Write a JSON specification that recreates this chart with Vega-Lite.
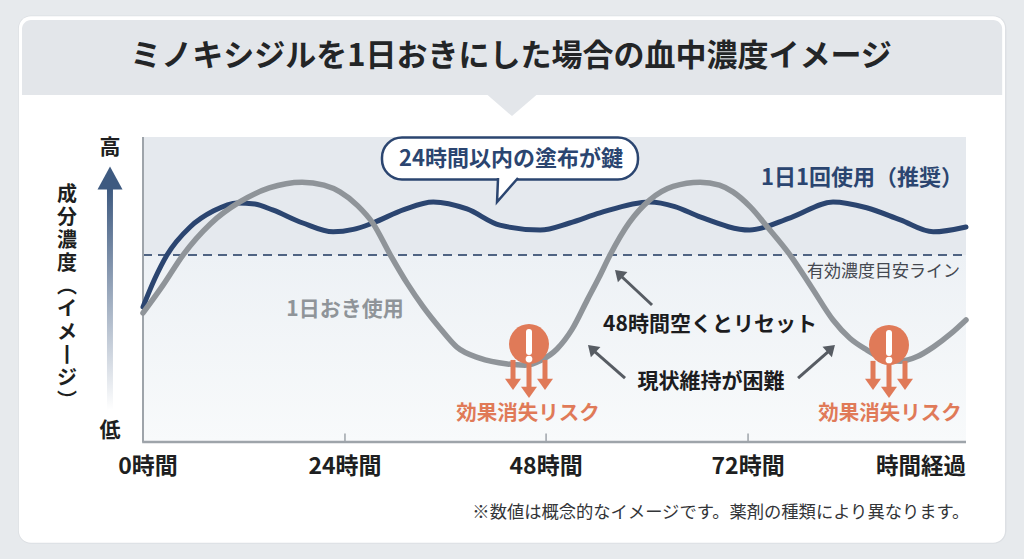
{
  "$schema": "https://vega.github.io/schema/vega-lite/v6.json",
  "description": "ミノキシジルを1日おきにした場合の血中濃度イメージ",
  "width": 823,
  "height": 305,
  "autosize": "none",
  "padding": {"left": 143, "top": 137, "right": 58, "bottom": 117},
  "background": "#e7eaed",
  "datasets": {
    "curves": [
      {"series": "daily", "h": 0, "v": 44.3},
      {"series": "daily", "h": 1.4, "v": 53.5},
      {"series": "daily", "h": 2.85, "v": 61.3},
      {"series": "daily", "h": 5.6, "v": 70.5},
      {"series": "daily", "h": 8.4, "v": 75.8},
      {"series": "daily", "h": 11.2, "v": 78.4},
      {"series": "daily", "h": 13.3, "v": 78.0},
      {"series": "daily", "h": 15.4, "v": 76.1},
      {"series": "daily", "h": 19, "v": 71.8},
      {"series": "daily", "h": 22.6, "v": 68.9},
      {"series": "daily", "h": 25, "v": 69.7},
      {"series": "daily", "h": 27.3, "v": 71.8},
      {"series": "daily", "h": 31, "v": 76.2},
      {"series": "daily", "h": 34.5, "v": 78.7},
      {"series": "daily", "h": 38.5, "v": 76.4},
      {"series": "daily", "h": 42.4, "v": 71.1},
      {"series": "daily", "h": 47.2, "v": 69.5},
      {"series": "daily", "h": 50.7, "v": 71.8},
      {"series": "daily", "h": 54.3, "v": 75.1},
      {"series": "daily", "h": 60.2, "v": 78.7},
      {"series": "daily", "h": 63.2, "v": 77.2},
      {"series": "daily", "h": 66.2, "v": 73.8},
      {"series": "daily", "h": 72.1, "v": 69.5},
      {"series": "daily", "h": 77, "v": 73.6},
      {"series": "daily", "h": 82.0, "v": 78.7},
      {"series": "daily", "h": 86, "v": 76.8},
      {"series": "daily", "h": 90.0, "v": 72.8},
      {"series": "daily", "h": 93.9, "v": 68.9},
      {"series": "daily", "h": 97.8, "v": 70.5},
      {"series": "alt", "h": 0, "v": 42.3},
      {"series": "alt", "h": 2.4, "v": 51.5},
      {"series": "alt", "h": 4.75, "v": 61.3},
      {"series": "alt", "h": 8, "v": 71.5},
      {"series": "alt", "h": 11.5, "v": 78.7},
      {"series": "alt", "h": 15, "v": 83.3},
      {"series": "alt", "h": 18.9, "v": 85.2},
      {"series": "alt", "h": 21.5, "v": 84.2},
      {"series": "alt", "h": 23.4, "v": 82.0},
      {"series": "alt", "h": 25.5, "v": 77.5},
      {"series": "alt", "h": 27.3, "v": 71.8},
      {"series": "alt", "h": 29.4, "v": 61.3},
      {"series": "alt", "h": 31.4, "v": 52},
      {"series": "alt", "h": 33.3, "v": 44.3},
      {"series": "alt", "h": 35.3, "v": 37.3},
      {"series": "alt", "h": 37.3, "v": 31.1},
      {"series": "alt", "h": 40, "v": 27.5},
      {"series": "alt", "h": 43.3, "v": 25.6},
      {"series": "alt", "h": 45.4, "v": 25.2},
      {"series": "alt", "h": 47.3, "v": 26.8},
      {"series": "alt", "h": 49.2, "v": 30.5},
      {"series": "alt", "h": 51, "v": 37},
      {"series": "alt", "h": 52.8, "v": 46.6},
      {"series": "alt", "h": 54.2, "v": 54},
      {"series": "alt", "h": 55.5, "v": 61.3},
      {"series": "alt", "h": 57.8, "v": 72},
      {"series": "alt", "h": 60.2, "v": 79.3},
      {"series": "alt", "h": 63, "v": 83.8},
      {"series": "alt", "h": 66.2, "v": 85.2},
      {"series": "alt", "h": 68.5, "v": 84.2},
      {"series": "alt", "h": 70.1, "v": 82.0},
      {"series": "alt", "h": 72.2, "v": 77},
      {"series": "alt", "h": 74.2, "v": 70.5},
      {"series": "alt", "h": 76.9, "v": 61.3},
      {"series": "alt", "h": 79.5, "v": 50.5},
      {"series": "alt", "h": 82.0, "v": 40.0},
      {"series": "alt", "h": 84, "v": 34},
      {"series": "alt", "h": 86.0, "v": 30.2},
      {"series": "alt", "h": 88, "v": 27.2},
      {"series": "alt", "h": 90.0, "v": 26.5},
      {"series": "alt", "h": 92, "v": 28},
      {"series": "alt", "h": 93.9, "v": 31.1},
      {"series": "alt", "h": 96, "v": 35.5},
      {"series": "alt", "h": 97.8, "v": 40.0}
    ],
    "icons": [
      {"h": 45.87, "v": 32.1, "label": "効果消失リスク", "lv": 9.18, "lh": 45.75},
      {"h": 88.65, "v": 31.8, "label": "効果消失リスク", "lv": 9.18, "lh": 88.77}
    ],
    "drops": [
      {"h": 43.97, "v": 26.9, "v2": 20.0, "tip": 17.05},
      {"h": 45.87, "v": 26.9, "v2": 17.4, "tip": 14.43},
      {"h": 47.77, "v": 26.9, "v2": 20.0, "tip": 17.05},
      {"h": 86.75, "v": 26.6, "v2": 20.0, "tip": 17.05},
      {"h": 88.65, "v": 26.6, "v2": 17.4, "tip": 14.43},
      {"h": 90.55, "v": 26.6, "v2": 20.0, "tip": 17.05}
    ],
    "pointers": [
      {"dir": "left", "h": 60.49, "v": 44.92, "h2": 56.68, "v2": 54.75, "th": 56.09, "tv": 56.39},
      {"dir": "left", "h": 57.28, "v": 20.98, "h2": 53.48, "v2": 30.16, "th": 52.88, "tv": 31.8},
      {"dir": "right", "h": 77.84, "v": 20.98, "h2": 81.64, "v2": 30.16, "th": 82.23, "tv": 31.8}
    ]
  },
  "encoding": {
    "x": {"field": "h", "type": "quantitative", "scale": {"domain": [0, 97.8], "nice": false, "zero": false}, "axis": null},
    "y": {"field": "v", "type": "quantitative", "scale": {"domain": [0, 100], "nice": false, "zero": false}, "axis": null}
  },
  "layer": [
    {
      "data": {"values": [{"h": -14.85, "h2": 102.6, "v": 139.8, "v2": -33.4}]},
      "mark": {"type": "rect", "fill": "#dcdfe3", "cornerRadius": 13},
      "encoding": {"x2": {"field": "h2"}, "y2": {"field": "v2"}}
    },
    {
      "data": {"values": [{"h": -14.75, "h2": 102.44, "v": 139.6, "v2": -33.0}]},
      "mark": {"type": "rect", "fill": "#ffffff", "cornerRadius": 12},
      "encoding": {"x2": {"field": "h2"}, "y2": {"field": "v2"}}
    },
    {
      "data": {"values": [{"h": -14.38, "h2": 102.1, "v": 138.4, "v2": 113.77}]},
      "mark": {"type": "rect", "fill": "#e3e6ea", "cornerRadiusTopLeft": 9, "cornerRadiusTopRight": 9},
      "encoding": {"x2": {"field": "h2"}, "y2": {"field": "v2"}}
    },
    {
      "data": {"values": [{"h": 43.85, "v": 113.9}]},
      "mark": {"type": "point", "shape": "M -1 0 L 1 0 L 0 0.86 Z", "size": 2500, "filled": true, "fill": "#e3e6ea", "opacity": 1, "strokeWidth": 0}
    },
    {
      "data": {"values": [{"text": "ミノキシジルを1日おきにした場合の血中濃度イメージ", "h": 43.73, "v": 126.2}]},
      "mark": {"type": "text", "fontSize": 31, "fontWeight": "bold", "color": "#232527", "baseline": "middle", "align": "center"},
      "encoding": {"text": {"field": "text"}}
    },
    {
      "data": {"values": [{"h": 0, "h2": 97.8, "v": 61.3, "v2": 100}]},
      "mark": {"type": "rect", "fill": "#e5e9ee"},
      "encoding": {"x2": {"field": "h2"}, "y2": {"field": "v2"}}
    },
    {
      "data": {"values": [{"h": 0, "h2": 97.8, "v": 0, "v2": 61.3}]},
      "mark": {
        "type": "rect",
        "fill": {"gradient": "linear", "x1": 0, "y1": 0, "x2": 0, "y2": 1, "stops": [{"offset": 0, "color": "#edf1f5"}, {"offset": 1, "color": "#f8fafb"}]}
      },
      "encoding": {"x2": {"field": "h2"}, "y2": {"field": "v2"}}
    },
    {
      "data": {"values": [{"h": 0, "h2": 97.8, "v": 61.3}]},
      "mark": {"type": "rule", "color": "#4f6382", "strokeWidth": 2, "strokeDash": [9, 6]},
      "encoding": {"x2": {"field": "h2"}}
    },
    {
      "data": {"values": [{"h": 0, "v": 0, "v2": 100}]},
      "mark": {"type": "rule", "color": "#9ea4aa", "strokeWidth": 2},
      "encoding": {"y2": {"field": "v2"}}
    },
    {
      "data": {"values": [{"h": 24, "v": 0, "v2": 2.8}, {"h": 47.9, "v": 0, "v2": 2.8}, {"h": 71.9, "v": 0, "v2": 2.8}]},
      "mark": {"type": "rule", "color": "#9ea4aa", "strokeWidth": 1.5},
      "encoding": {"y2": {"field": "v2"}}
    },
    {
      "data": {"values": [{"h": -0.1, "h2": 97.8, "v": 0}]},
      "mark": {"type": "rule", "color": "#9ea4aa", "strokeWidth": 2.5},
      "encoding": {"x2": {"field": "h2"}}
    },
    {
      "data": {"name": "curves"},
      "transform": [{"filter": "datum.series === 'daily'"}],
      "mark": {"type": "line", "color": "#2b4570", "strokeWidth": 5, "interpolate": "monotone", "strokeCap": "round"},
      "encoding": {"order": {"field": "h", "type": "quantitative"}}
    },
    {
      "data": {"name": "curves"},
      "transform": [{"filter": "datum.series === 'alt'"}],
      "mark": {"type": "line", "color": "#8f9499", "strokeWidth": 5.5, "interpolate": "monotone", "strokeCap": "round"},
      "encoding": {"order": {"field": "h", "type": "quantitative"}}
    },
    {
      "data": {"name": "drops"},
      "mark": {"type": "rule", "color": "#e07a58", "strokeWidth": 5},
      "encoding": {"y2": {"field": "v2"}}
    },
    {
      "data": {"name": "drops"},
      "mark": {"type": "point", "shape": "M -1 -1.4 L 1 -1.4 L 0 0 Z", "size": 256, "filled": true, "color": "#e07a58", "opacity": 1},
      "encoding": {"y": {"field": "tip", "type": "quantitative"}}
    },
    {
      "data": {"name": "icons"},
      "mark": {"type": "circle", "size": 1600, "color": "#e07a58", "opacity": 1}
    },
    {
      "data": {"name": "icons"},
      "transform": [{"fold": ["v"], "as": ["k", "c"]}],
      "mark": {"type": "rule", "color": "#ffffff", "strokeWidth": 6, "strokeCap": "round", "yOffset": -12, "y2Offset": 8},
      "encoding": {"y": {"field": "c", "type": "quantitative"}, "y2": {"field": "c"}}
    },
    {
      "data": {"name": "icons"},
      "mark": {"type": "circle", "size": 45, "color": "#ffffff", "opacity": 1, "yOffset": 15}
    },
    {
      "data": {"name": "icons"},
      "mark": {"type": "text", "fontSize": 20.5, "fontWeight": "bold", "color": "#e07a58", "baseline": "middle", "align": "center"},
      "encoding": {"x": {"field": "lh", "type": "quantitative"}, "y": {"field": "lv", "type": "quantitative"}, "text": {"field": "label"}}
    },
    {
      "data": {"values": [{"h": 28.4, "h2": 58.82, "v": 99.84, "v2": 86.07}]},
      "mark": {"type": "rect", "fill": "#ffffff", "stroke": "#2b4570", "strokeWidth": 2.5, "cornerRadius": 20},
      "encoding": {"x2": {"field": "h2"}, "y2": {"field": "v2"}}
    },
    {
      "data": {"values": [{"h": 42.19, "v": 86.07}]},
      "mark": {"type": "point", "shape": "M 0 -0.15 L -0.1 2.25 L 2 -0.15", "size": 400, "filled": false, "fill": "#ffffff", "stroke": "#2b4570", "strokeWidth": 2.5, "opacity": 1, "fillOpacity": 1}
    },
    {
      "data": {"values": [{"text": "24時間以内の塗布が鍵", "h": 43.73, "v": 92.8}]},
      "mark": {"type": "text", "fontSize": 22, "fontWeight": "bold", "color": "#2b4570", "baseline": "middle", "align": "center"},
      "encoding": {"text": {"field": "text"}}
    },
    {
      "data": {"values": [{"text": "1日1回使用（推奨）", "h": 85.44, "v": 86.6}]},
      "mark": {"type": "text", "fontSize": 22, "fontWeight": "bold", "color": "#2b4570", "baseline": "middle", "align": "center"},
      "encoding": {"text": {"field": "text"}}
    },
    {
      "data": {"values": [{"text": "1日おき使用", "h": 24.0, "v": 43.3}]},
      "mark": {"type": "text", "fontSize": 21, "fontWeight": "bold", "color": "#8f9499", "baseline": "middle", "align": "center"},
      "encoding": {"text": {"field": "text"}}
    },
    {
      "data": {"values": [{"text": "有効濃度目安ライン", "h": 97.1, "v": 55.7}]},
      "mark": {"type": "text", "fontSize": 17, "color": "#444850", "baseline": "middle", "align": "right"},
      "encoding": {"text": {"field": "text"}}
    },
    {
      "data": {"name": "pointers"},
      "mark": {"type": "rule", "color": "#575c63", "strokeWidth": 3},
      "encoding": {"x2": {"field": "h2"}, "y2": {"field": "v2"}}
    },
    {
      "data": {"name": "pointers"},
      "transform": [{"filter": "datum.dir === 'left'"}],
      "mark": {"type": "point", "shape": "M 0 0 L 1 1.5 L -1 1.5 Z", "size": 196, "filled": true, "color": "#575c63", "opacity": 1, "angle": -47},
      "encoding": {"x": {"field": "th", "type": "quantitative"}, "y": {"field": "tv", "type": "quantitative"}}
    },
    {
      "data": {"name": "pointers"},
      "transform": [{"filter": "datum.dir === 'right'"}],
      "mark": {"type": "point", "shape": "M 0 0 L 1 1.5 L -1 1.5 Z", "size": 196, "filled": true, "color": "#575c63", "opacity": 1, "angle": 48},
      "encoding": {"x": {"field": "th", "type": "quantitative"}, "y": {"field": "tv", "type": "quantitative"}}
    },
    {
      "data": {"values": [{"text": "48時間空くとリセット", "h": 67.38, "v": 38.36}, {"text": "現状維持が困難", "h": 67.5, "v": 19.67}]},
      "mark": {"type": "text", "fontSize": 21, "fontWeight": "bold", "color": "#1c1c1e", "baseline": "middle", "align": "center"},
      "encoding": {"text": {"field": "text"}}
    },
    {
      "data": {"values": [{"h": -4.28, "h2": -3.57, "v": 83.0, "v2": 10.5}]},
      "mark": {
        "type": "rect",
        "fill": {"gradient": "linear", "x1": 0, "y1": 0, "x2": 0, "y2": 1, "stops": [{"offset": 0, "color": "#3e5a80"}, {"offset": 1, "color": "#ffffff"}]}
      },
      "encoding": {"x2": {"field": "h2"}, "y2": {"field": "v2"}}
    },
    {
      "data": {"values": [{"h": -3.92, "v": 86.56}]},
      "mark": {"type": "point", "shape": "M 0 -0.92 L 1 0.92 L -1 0.92 Z", "size": 625, "filled": true, "color": "#3e5a80", "opacity": 1}
    },
    {
      "data": {"values": [{"text": "高", "h": -3.92, "v": 96.4}, {"text": "低", "h": -3.92, "v": 3.6}]},
      "mark": {"type": "text", "fontSize": 21, "fontWeight": "bold", "color": "#1e1f21", "baseline": "middle", "align": "center"},
      "encoding": {"text": {"field": "text"}}
    },
    {
      "data": {"values": [{"text": "成\n分\n濃\n度\n︵\nイ\nメ\n丨\nジ\n︶", "h": -9.03, "v": 81.0}]},
      "mark": {"type": "text", "fontSize": 20, "fontWeight": "bold", "color": "#1e1f21", "baseline": "middle", "align": "center", "lineBreak": "\n", "lineHeight": 23},
      "encoding": {"text": {"field": "text"}}
    },
    {
      "data": {"values": [{"text": "0時間", "h": 0.6}, {"text": "24時間", "h": 24}, {"text": "48時間", "h": 47.9}, {"text": "72時間", "h": 71.9}]},
      "mark": {"type": "text", "fontSize": 23, "fontWeight": "bold", "color": "#1e1f21", "baseline": "middle", "align": "center", "y": {"expr": "height + 25"}},
      "encoding": {"text": {"field": "text"}, "y": null}
    },
    {
      "data": {"values": [{"text": "時間経過", "h": 97.8}]},
      "mark": {"type": "text", "fontSize": 22.5, "fontWeight": "bold", "color": "#1e1f21", "baseline": "middle", "align": "right", "y": {"expr": "height + 25"}},
      "encoding": {"text": {"field": "text"}, "y": null}
    },
    {
      "data": {"values": [{"text": "※数値は概念的なイメージです。薬剤の種類により異なります。", "h": 98.2, "v": -23.3}]},
      "mark": {"type": "text", "fontSize": 17.3, "color": "#333538", "baseline": "middle", "align": "right"},
      "encoding": {"text": {"field": "text"}}
    }
  ],
  "config": {
    "view": {"stroke": null},
    "text": {"font": "Noto Sans CJK JP"}
  }
}
